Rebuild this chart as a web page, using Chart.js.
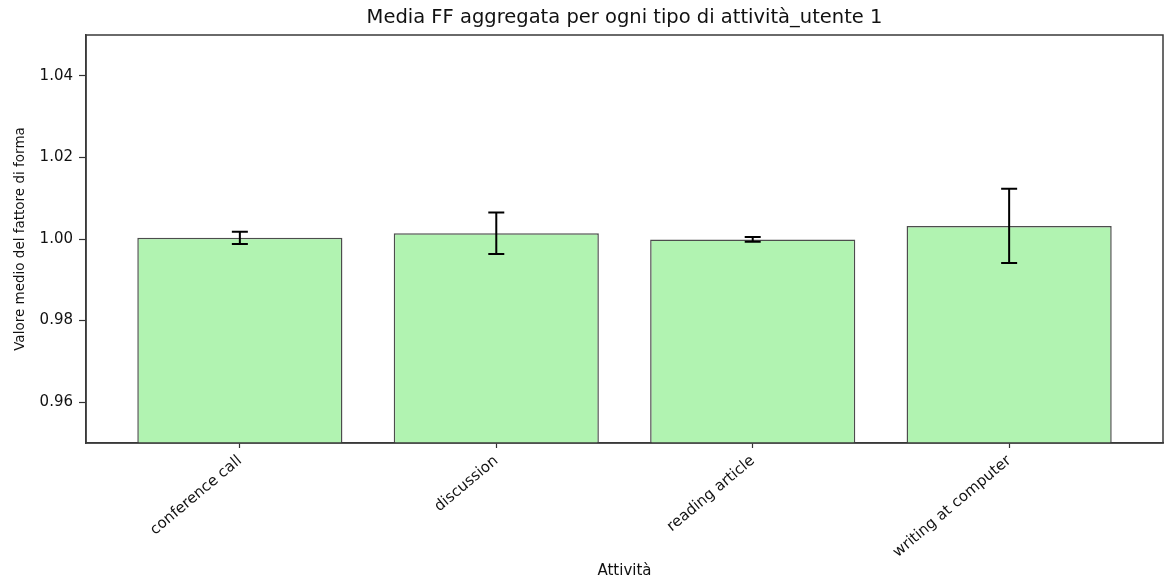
<!DOCTYPE html>
<html>
<head>
<meta charset="utf-8">
<script src="https://cdn.jsdelivr.net/npm/chart.js@4.4.0/dist/chart.umd.min.js"></script>
<style>
  html, body { margin: 0; padding: 0; background: #ffffff; }
  #wrap { width: 1165px; height: 580px; }
</style>
</head>
<body>
<div id="wrap"><canvas id="chart" width="1165" height="580"></canvas></div>
<script>
// Activities and the mean form factor for each, with its standard deviation
const categories = ['conference call', 'discussion', 'reading article', 'writing at computer'];
const meanValues = [1.0003, 1.0014, 0.9999, 1.0032];
const stdValues = [0.0015, 0.0051, 0.0006, 0.0091];
const yTickValues = [0.96, 0.98, 1.00, 1.02, 1.04];
const chartTitle = 'Media FF aggregata per ogni tipo di attività_utente 1';

const fontFamily = "'DejaVu Sans', sans-serif";

// Vertical error bars with caps, placed through the chart scales
const errorBarPlugin = {
  id: 'errorBars',
  afterDatasetsDraw(chart) {
    const { ctx, scales: { x, y }, chartArea } = chart;
    ctx.save();
    ctx.beginPath();
    ctx.rect(chartArea.left, chartArea.top, chartArea.width, chartArea.height);
    ctx.clip();
    ctx.strokeStyle = '#000000';
    ctx.lineWidth = 2;
    const capHalf = 8;
    meanValues.forEach((v, i) => {
      const px = x.getPixelForValue(i);
      const yHi = y.getPixelForValue(v + stdValues[i]);
      const yLo = y.getPixelForValue(v - stdValues[i]);
      ctx.beginPath();
      ctx.moveTo(px, yHi); ctx.lineTo(px, yLo);
      ctx.moveTo(px - capHalf, yHi); ctx.lineTo(px + capHalf, yHi);
      ctx.moveTo(px - capHalf, yLo); ctx.lineTo(px + capHalf, yLo);
      ctx.stroke();
    });
    ctx.restore();
  }
};

// Box frame around the plotting area and the title centred above it
const framePlugin = {
  id: 'frame',
  afterDraw(chart) {
    const { ctx, chartArea: a } = chart;
    ctx.save();
    ctx.strokeStyle = '#3a3a3a';
    ctx.lineWidth = 1.5;
    ctx.strokeRect(a.left, a.top, a.right - a.left, a.bottom - a.top);
    ctx.fillStyle = '#111111';
    ctx.font = `19.5px ${fontFamily}`;
    ctx.textAlign = 'center';
    ctx.textBaseline = 'middle';
    ctx.fillText(chartTitle, (a.left + a.right) / 2, a.top - 17);
    ctx.restore();
  }
};

new Chart(document.getElementById('chart'), {
  type: 'bar',
  data: {
    datasets: [{
      data: meanValues.map((v, i) => ({ x: i, y: v })),
      backgroundColor: '#b1f3b1',
      borderColor: '#4d4d4d',
      borderWidth: 1.5,
      barPercentage: 0.8,
      categoryPercentage: 1.0
    }]
  },
  options: {
    responsive: false,
    animation: false,
    devicePixelRatio: 1,
    layout: { padding: { left: 0, right: 2, top: 35, bottom: 0 } },
    plugins: {
      legend: { display: false },
      tooltip: { enabled: false },
      title: { display: false }
    },
    scales: {
      x: {
        type: 'linear',
        min: -0.6,
        max: 3.6,
        offset: false,
        afterBuildTicks(scale) {
          scale.ticks = categories.map((c, i) => ({ value: i }));
        },
        afterFit(scale) { scale.height = 137; },
        ticks: {
          autoSkip: false,
          maxRotation: 40,
          minRotation: 40,
          padding: 4,
          color: '#111111',
          font: { family: fontFamily, size: 15 },
          callback: (value) => categories[value] ?? ''
        },
        grid: {
          offset: false,
          drawOnChartArea: false,
          drawTicks: true,
          tickLength: 5,
          tickColor: '#333333',
          tickWidth: 1.2
        },
        border: { display: true, color: '#3a3a3a', width: 1.5 },
        title: {
          display: true,
          text: 'Attività',
          color: '#111111',
          font: { family: fontFamily, size: 15 },
          padding: { top: 0, bottom: 0 }
        }
      },
      y: {
        min: 0.95,
        max: 1.05,
        afterBuildTicks(scale) {
          scale.ticks = yTickValues.map(v => ({ value: v }));
        },
        afterFit(scale) { scale.width = 86; },
        ticks: {
          padding: 6,
          color: '#111111',
          font: { family: fontFamily, size: 15 },
          callback: (value) => Number(value).toFixed(2)
        },
        grid: {
          drawOnChartArea: false,
          drawTicks: true,
          tickLength: 7,
          tickColor: '#333333',
          tickWidth: 1.2
        },
        border: { display: true, color: '#3a3a3a', width: 1.5 },
        title: {
          display: true,
          text: 'Valore medio del fattore di forma',
          color: '#111111',
          font: { family: fontFamily, size: 13.5 },
          padding: { top: 12, bottom: 0 }
        }
      }
    }
  },
  plugins: [errorBarPlugin, framePlugin]
});
</script>
</body>
</html>
